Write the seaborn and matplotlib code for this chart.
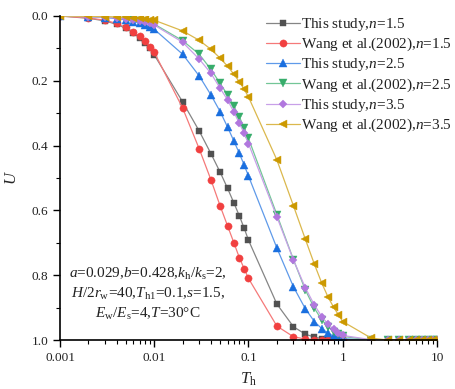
import numpy as np
import pandas as pd
import matplotlib
matplotlib.use('Agg')
import matplotlib.pyplot as plt
import matplotlib.colors as mcolors
import matplotlib.ticker as ticker
import seaborn as sns

sns.set_style('ticks')
plt.rcParams['font.family'] = ['Liberation Serif', 'DejaVu Serif']
plt.rcParams['mathtext.fontset'] = 'custom'
plt.rcParams['mathtext.rm'] = 'Liberation Serif'
plt.rcParams['mathtext.it'] = 'Liberation Serif:italic'

# time factor, 1..9 x each decade
Th = [0.001, 0.002, 0.003, 0.004, 0.005, 0.006, 0.007, 0.008, 0.009,
      0.01, 0.02, 0.03, 0.04, 0.05, 0.06, 0.07, 0.08, 0.09,
      0.1, 0.2, 0.3, 0.4, 0.5, 0.6, 0.7, 0.8, 0.9,
      1, 2, 3, 4, 5, 6, 7, 8, 9, 10]

U_this_15 = [0.0, 0.007, 0.015, 0.026, 0.038, 0.052, 0.067, 0.083, 0.100,
             0.120, 0.265, 0.355, 0.425, 0.482, 0.532, 0.577, 0.617, 0.655,
             0.692, 0.889, 0.959, 0.982, 0.991, 0.996, 0.998, 0.999, 1.0,
             1.0, 1.0, 1.0, 1.0, 1.0, 1.0, 1.0, 1.0, 1.0, 1.0]
U_wang_15 = [0.0, 0.006, 0.013, 0.023, 0.035, 0.049, 0.063, 0.078, 0.095,
             0.112, 0.284, 0.410, 0.506, 0.586, 0.648, 0.700, 0.746, 0.780,
             0.810, 0.957, 0.990, 0.997, 0.999, 1.0, 1.0, 1.0, 1.0,
             1.0, 1.0, 1.0, 1.0, 1.0, 1.0, 1.0, 1.0, 1.0, 1.0]
U_this_25 = [0.0, 0.002, 0.005, 0.008, 0.012, 0.017, 0.022, 0.028, 0.034,
             0.041, 0.118, 0.185, 0.244, 0.295, 0.343, 0.386, 0.424, 0.460,
             0.494, 0.716, 0.836, 0.903, 0.943, 0.965, 0.979, 0.988, 0.993,
             0.996, 1.0, 1.0, 1.0, 1.0, 1.0, 1.0, 1.0, 1.0, 1.0]
U_wang_25 = [0.0, 0.002, 0.003, 0.005, 0.008, 0.011, 0.014, 0.017, 0.021,
             0.025, 0.076, 0.118, 0.165, 0.208, 0.244, 0.279, 0.311, 0.346,
             0.378, 0.613, 0.752, 0.845, 0.902, 0.938, 0.960, 0.974, 0.983,
             0.989, 1.0, 1.0, 1.0, 1.0, 1.0, 1.0, 1.0, 1.0, 1.0]
U_this_35 = [0.0, 0.002, 0.004, 0.006, 0.009, 0.012, 0.015, 0.019, 0.023,
             0.028, 0.081, 0.133, 0.177, 0.223, 0.259, 0.297, 0.331, 0.362,
             0.394, 0.620, 0.753, 0.838, 0.892, 0.928, 0.952, 0.967, 0.977,
             0.986, 0.999, 1.0, 1.0, 1.0, 1.0, 1.0, 1.0, 1.0, 1.0]
U_wang_35 = [0.0, 0.001, 0.002, 0.003, 0.004, 0.006, 0.007, 0.009, 0.011,
             0.013, 0.046, 0.075, 0.103, 0.130, 0.155, 0.180, 0.203, 0.226,
             0.250, 0.444, 0.586, 0.688, 0.766, 0.825, 0.868, 0.899, 0.922,
             0.943, 0.994, 1.0, 1.0, 1.0, 1.0, 1.0, 1.0, 1.0, 1.0]

labels = ['This study,$n$=1.5', 'Wang et al.(2002),$n$=1.5',
          'This study,$n$=2.5', 'Wang et al.(2002),$n$=2.5',
          'This study,$n$=3.5', 'Wang et al.(2002),$n$=3.5']
series = [U_this_15, U_wang_15, U_this_25, U_wang_25, U_this_35, U_wang_35]
colors = ['#515151', '#F14040', '#1A6FDF', '#37AD6B', '#B177DE', '#CC9900']
markers = ['s', 'o', '^', 'v', 'D', '<']
msizes = [4.6, 5.2, 5.6, 5.6, 4.4, 5.6]


def lighten(c, f=0.3):
    r, g, b = mcolors.to_rgb(c)
    return (r + (1 - r) * f, g + (1 - g) * f, b + (1 - b) * f)


fig = plt.figure(figsize=(4.56, 3.89), dpi=100)
ax = fig.add_axes([60/456, 1-340/389, (437-60)/456, (340-16)/389])

for vals, lab, c, m, ms in zip(series, labels, colors, markers, msizes):
    df = pd.DataFrame({'Th': Th, 'U': vals})
    sns.lineplot(data=df, x='Th', y='U', ax=ax, color=lighten(c), lw=0.9,
                 marker=m, markersize=ms, markerfacecolor=c,
                 markeredgecolor=c, markeredgewidth=0.3, label=lab)

ax.set_xscale('log')
ax.set_xlim(0.001, 10)
ax.set_ylim(1.0, 0.0)
ax.xaxis.set_major_locator(ticker.FixedLocator([0.001, 0.01, 0.1, 1, 10]))
ax.xaxis.set_major_formatter(ticker.FixedFormatter(['0.001', '0.01', '0.1', '1', '10']))
ax.xaxis.set_minor_locator(ticker.LogLocator(base=10, subs=np.arange(2, 10)))
ax.xaxis.set_minor_formatter(ticker.NullFormatter())
ax.yaxis.set_major_locator(ticker.MultipleLocator(0.2))
ax.yaxis.set_major_formatter(ticker.FormatStrFormatter('%.1f'))
ax.yaxis.set_minor_locator(ticker.MultipleLocator(0.1))
ax.tick_params(which='major', direction='out', length=5, width=1, labelsize=9.5,
               color='black', labelcolor='#222222')
ax.tick_params(which='minor', direction='out', length=3, width=0.8, color='black')
sns.despine(ax=ax)
for sp in ['left', 'bottom']:
    ax.spines[sp].set_linewidth(1.2)
    ax.spines[sp].set_color('black')

ax.set_xlabel('$T_\\mathrm{h}$', fontsize=12, labelpad=5)
ax.set_ylabel('$U$', fontsize=12, labelpad=8)

txt = ('$a$=0.029,$b$=0.428,$k_\\mathrm{h}$/$k_\\mathrm{s}$=2,\n'
       '$H$/2$r_\\mathrm{w}$=40,$T_\\mathrm{h1}$=0.1,$s$=1.5,\n'
       '$E_\\mathrm{w}$/$E_\\mathrm{s}$=4,$T$=30\u00b0C')
fig.text(148/456, 1-294/389, txt, ha='center', va='center', fontsize=11,
         linespacing=1.35, color='#222222')

leg = ax.legend(loc='upper left', bbox_to_anchor=(266/456, 1-16/389),
                bbox_transform=fig.transFigure, frameon=False, fontsize=11,
                handlelength=2.2, handletextpad=0.1, labelspacing=0.2,
                borderpad=0, borderaxespad=0, numpoints=1)
for t in leg.get_texts():
    t.set_color('#222222')

fig.savefig('out.png', dpi=100)
